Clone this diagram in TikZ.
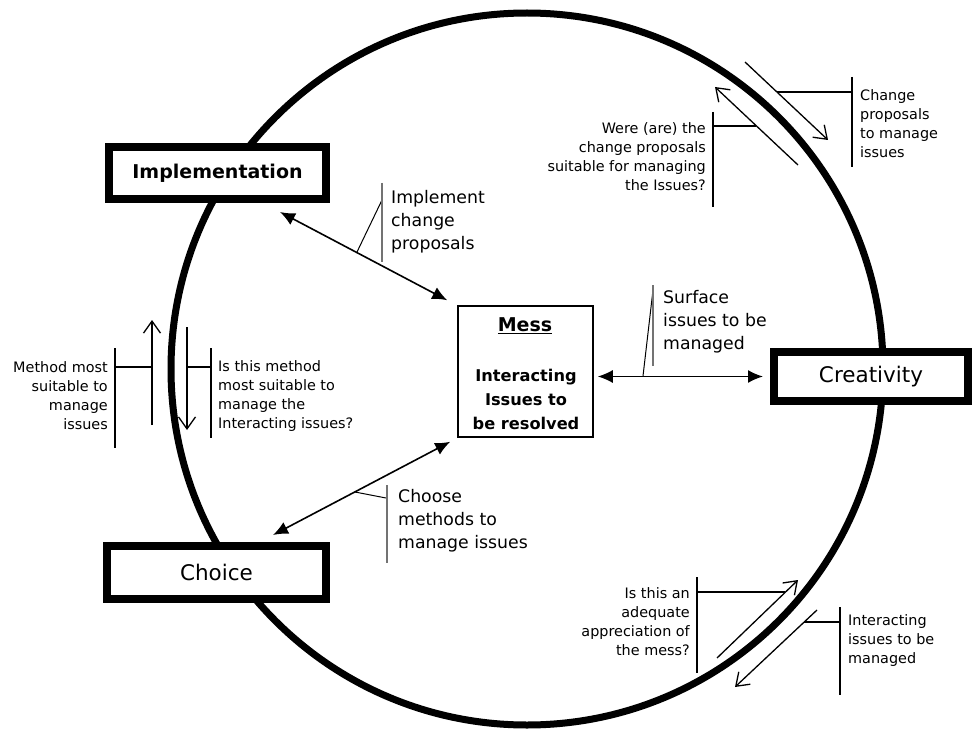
\documentclass[tikz,border=0pt]{standalone}
\usepackage{fontspec}
\setmainfont{DejaVu Sans}
\usetikzlibrary{arrows.meta}
\newcommand\tsmall{\fontsize{14.4}{19}\selectfont}
\newcommand\tmed{\fontsize{17.3}{23}\selectfont}
\newcommand\tbig{\fontsize{21.5}{26}\selectfont}
\begin{document}
\begin{tikzpicture}[x=1pt,y=-1pt,
  bigbox/.style={draw, line width=8pt, fill=white, inner sep=0pt},
  solidarrow/.style={line width=1.6pt, {Latex[length=15pt,width=13pt]}-{Latex[length=15pt,width=13pt]}},
  openarrow/.style={line width=1.3pt, -{Straight Barb[length=12pt,width=17pt]}},
  lead/.style={line width=1.2pt},
  graylead/.style={line width=1.5pt, draw=black!55},
  smalltext/.style={font=\tsmall, inner sep=0pt},
  medtext/.style={font=\tmed, inner sep=0pt, anchor=west, align=left}]
\useasboundingbox (0,0) rectangle (974,730);
\fill[white] (0,0) rectangle (974,730);

% main circle
\draw[line width=7pt] (527,369) circle[radius=356];

% boxes
\node[bigbox, minimum width=217pt, minimum height=52pt, font=\fontsize{19}{22}\selectfont\bfseries] (impl) at (217.5,173) {Implementation};
\node[bigbox, minimum width=219pt, minimum height=53pt, font=\tbig] (choice) at (216.5,572.5) {Choice};
\node[bigbox, minimum width=194pt, minimum height=49pt, font=\tbig] (creat) at (871,376.5) {Creativity};
\node[draw, line width=1.5pt, fill=white, minimum width=135pt, minimum height=131pt] (mess) at (525.5,371.5) {};
\node[font=\fontsize{19}{22}\selectfont\bfseries, inner sep=0pt] (messtitle) at (525,326) {\underline{Mess}};
\node[font=\fontsize{16.2}{24}\selectfont\bfseries, align=center, inner sep=0pt] (messtext) at (526,399) {Interacting\\Issues to\\be resolved};

% arrows between mess and the three boxes
\draw[solidarrow, shorten <=4pt, shorten >=7pt] (mess.east |- creat.west) -- (creat.west);
\draw[solidarrow] ([shift={(-50,9)}]impl.south east) -- ([shift={(-10,-5)}]mess.north west);
\draw[solidarrow] ([shift={(-57,-7)}]choice.north east) -- ([shift={(-7,4)}]mess.south west);

% labels of the inner arrows
\node[medtext] (timpl) at (391,222) {Implement\\change\\proposals};
\coordinate (ilA) at (357,252); \coordinate (ilB) at (382,200);
\coordinate (ilT) at (382,183); \coordinate (ilD) at (382,262);
\draw[lead, line width=1pt] (ilA) -- (ilB);
\draw[graylead, line width=1.2pt] (ilT) -- (ilD);

\node[medtext] (tsurf) at (663,322) {Surface\\issues to be\\managed};
\coordinate (slA) at (643,376); \coordinate (slB) at (653,290);
\coordinate (slT) at (653,285); \coordinate (slD) at (653,366);
\draw[lead, line width=1pt] (slA) -- (slB);
\draw[graylead] (slT) -- (slD);

\node[medtext] (tchoose) at (398,521) {Choose\\methods to\\manage issues};
\coordinate (clA) at (355,492); \coordinate (clB) at (386,498);
\coordinate (clT) at (387,485); \coordinate (clD) at (387,563);
\draw[lead, line width=1pt] (clA) -- (clB);
\draw[graylead, line width=1.2pt] (clT) -- (clD);

% top right pair of arrows
\coordinate (tro) at (745,62); \coordinate (trot) at (828,140);
\coordinate (tri) at (798,165); \coordinate (trit) at (715,87);
\draw[openarrow] (tro) -- (trot);
\draw[openarrow] (tri) -- (trit);
\node[smalltext, anchor=west, align=left] (tchange) at (860,123.5) {Change\\proposals\\to manage\\issues};
\node[smalltext, anchor=east, align=right] (twere) at (706,156.5) {Were (are) the\\change proposals\\suitable for managing\\the Issues?};
\coordinate (trh1) at (777,92); \coordinate (trh2) at (852,92);
\coordinate (trv1) at (852,77); \coordinate (trv2) at (852,167);
\draw[lead] (trh1) -- (trh2); \draw[lead] (trv1) -- (trv2);
\coordinate (trh3) at (756,126); \coordinate (trh4) at (713,126);
\coordinate (trv3) at (713,112); \coordinate (trv4) at (713,207);
\draw[lead] (trh3) -- (trh4); \draw[lead] (trv3) -- (trv4);

% left pair of arrows
\coordinate (lo) at (152,425); \coordinate (lot) at (152,320);
\coordinate (li) at (187,327); \coordinate (lit) at (187,430);
\draw[openarrow] (lo) -- (lot);
\draw[openarrow] (li) -- (lit);
\node[smalltext, anchor=east, align=right] (tmeth) at (108,396) {Method most\\suitable to\\manage\\issues};
\node[smalltext, anchor=west, align=left] (tisthis) at (218,396) {Is this method\\most suitable to\\manage the\\Interacting issues?};
\coordinate (lh1) at (152,367); \coordinate (lh2) at (115,367);
\coordinate (lv1) at (115,348); \coordinate (lv2) at (115,448);
\draw[lead] (lh1) -- (lh2); \draw[lead] (lv1) -- (lv2);
\coordinate (lh3) at (187,367); \coordinate (lh4) at (211,367);
\coordinate (lv3) at (211,348); \coordinate (lv4) at (211,438);
\draw[lead] (lh3) -- (lh4); \draw[lead] (lv3) -- (lv4);

% bottom right pair of arrows
\coordinate (bri) at (717,658); \coordinate (brit) at (798,580);
\coordinate (bro) at (817,610); \coordinate (brot) at (735,687);
\draw[openarrow] (bri) -- (brit);
\draw[openarrow] (bro) -- (brot);
\node[smalltext, anchor=east, align=right] (tadeq) at (690,622) {Is this an\\adequate\\appreciation of\\the mess?};
\node[smalltext, anchor=west, align=left] (tinter) at (848,641) {Interacting\\issues to be\\managed};
\coordinate (brh1) at (785,592); \coordinate (brh2) at (697,592);
\coordinate (brv1) at (697,577); \coordinate (brv2) at (697,673);
\draw[lead] (brh1) -- (brh2); \draw[lead] (brv1) -- (brv2);
\coordinate (brh3) at (804,622); \coordinate (brh4) at (840,622);
\coordinate (brv3) at (840,607); \coordinate (brv4) at (840,695);
\draw[lead] (brh3) -- (brh4); \draw[lead] (brv3) -- (brv4);
\end{tikzpicture}
\end{document}
